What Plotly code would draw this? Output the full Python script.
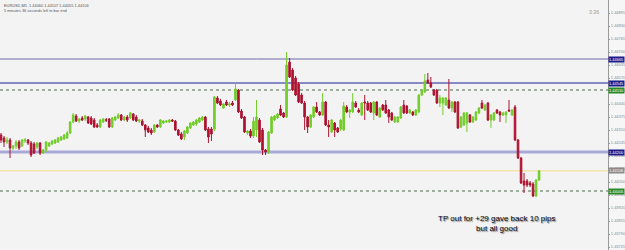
import plotly.graph_objects as go

# ---- data (EURUSD M5) ----
opens = [
1.44285,1.44270,1.44250,1.44260,1.44220,1.44230,1.44250,1.44230,1.44255,1.44260,
1.44245,1.44240,1.44225,1.44245,1.44195,1.44210,1.44230,1.44240,1.44245,1.44250,1.44260,
1.44265,1.44270,1.44295,1.44350,1.44380,1.44355,1.44370,1.44365,1.44375,1.44370,
1.44360,1.44335,1.44325,1.44350,1.44360,1.44365,1.44325,1.44360,1.44370,1.44385,
1.44360,1.44375,1.44370,1.44390,1.44375,1.44355,1.44355,1.44335,1.44320,1.44310,1.44300,
1.44335,1.44325,1.44345,1.44350,1.44350,1.44360,1.44355,1.44310,1.44290,1.44275,1.44295,
1.44320,1.44335,1.44340,1.44350,1.44360,1.44375,1.44315,1.44315,1.44315,1.44470,
1.44455,1.44420,1.44450,1.44435,1.44445,1.44460,1.44510,1.44405,1.44375,1.44295,
1.44305,1.44280,1.44310,1.44360,1.44310,1.44210,1.44200,1.44295,1.44360,
1.44370,1.44415,1.44395,1.44375,1.44650,1.44610,1.44570,1.44540,1.44485,
1.44445,1.44375,1.44325,1.44375,1.44425,1.44400,1.44385,1.44450,
1.44335,1.44300,1.44345,1.44320,1.44315,1.44310,1.44425,1.44400,1.44400,
1.44445,1.44410,1.44385,1.44450,1.44445,1.44445,1.44395,1.44450,
1.44375,1.44435,1.44435,1.44410,1.44395,1.44350,1.44350,1.44370,1.44435,
1.44430,1.44395,1.44400,1.44385,1.44400,1.44485,1.44500,1.44560,1.44545,
1.44510,1.44510,1.44445,1.44445,1.44435,1.44460,1.44420,1.44450,1.44450,
1.44325,1.44335,1.44345,1.44385,1.44350,1.44360,1.44395,1.44445,1.44410,1.44445,
1.44360,1.44360,1.44410,1.44400,1.44385,1.44385,1.44410,1.44385,
1.44425,1.44260,1.44170,1.44055,1.44055,1.44045,1.44040,1.43980,1.44060]

highs = [
1.44295,1.44280,1.44275,1.44270,1.44235,1.44260,1.44260,1.44265,1.44270,1.44265,
1.44255,1.44250,1.44250,1.44250,1.44215,1.44255,1.44250,1.44260,1.44265,1.44275,1.44280,
1.44290,1.44305,1.44355,1.44395,1.44390,1.44370,1.44380,1.44385,1.44380,1.44380,
1.44370,1.44345,1.44365,1.44370,1.44370,1.44370,1.44375,1.44380,1.44395,1.44390,
1.44380,1.44385,1.44400,1.44395,1.44385,1.44365,1.44365,1.44340,1.44330,1.44320,1.44340,
1.44340,1.44365,1.44360,1.44360,1.44365,1.44365,1.44360,1.44315,1.44300,1.44310,1.44330,
1.44350,1.44355,1.44365,1.44375,1.44380,1.44380,1.44325,1.44325,1.44480,1.44480,
1.44465,1.44445,1.44460,1.44450,1.44455,1.44545,1.44515,1.44415,1.44380,1.44310,
1.44315,1.44375,1.44460,1.44370,1.44320,1.44215,1.44305,1.44380,1.44385,
1.44395,1.44435,1.44400,1.44700,1.44670,1.44620,1.44580,1.44550,1.44495,
1.44455,1.44380,1.44390,1.44430,1.44450,1.44405,1.44495,1.44455,
1.44360,1.44365,1.44350,1.44325,1.44365,1.44450,1.44435,1.44415,1.44495,
1.44455,1.44420,1.44450,1.44485,1.44455,1.44450,1.44455,1.44455,
1.44425,1.44440,1.44460,1.44415,1.44400,1.44380,1.44380,1.44430,1.44460,
1.44435,1.44415,1.44405,1.44415,1.44490,1.44515,1.44590,1.44595,1.44575,
1.44515,1.44515,1.44485,1.44475,1.44475,1.44565,1.44455,1.44455,1.44455,
1.44380,1.44400,1.44400,1.44390,1.44380,1.44405,1.44425,1.44460,1.44440,1.44450,
1.44390,1.44400,1.44415,1.44405,1.44400,1.44405,1.44460,1.44415,
1.44435,1.44265,1.44175,1.44095,1.44065,1.44055,1.44050,1.44065,1.44107]

lows = [
1.44245,1.44225,1.44240,1.44170,1.44210,1.44215,1.44210,1.44225,1.44245,1.44235,
1.44175,1.44190,1.44215,1.44185,1.44190,1.44200,1.44225,1.44235,1.44240,1.44245,1.44255,
1.44260,1.44265,1.44290,1.44345,1.44350,1.44345,1.44355,1.44355,1.44340,1.44335,
1.44320,1.44320,1.44320,1.44345,1.44350,1.44320,1.44320,1.44355,1.44365,1.44355,
1.44355,1.44350,1.44365,1.44355,1.44350,1.44345,1.44330,1.44275,1.44295,1.44285,1.44295,
1.44320,1.44320,1.44340,1.44345,1.44345,1.44350,1.44305,1.44280,1.44260,1.44260,1.44290,
1.44315,1.44330,1.44330,1.44345,1.44355,1.44305,1.44245,1.44255,1.44305,1.44440,
1.44430,1.44415,1.44430,1.44425,1.44430,1.44455,1.44395,1.44365,1.44295,1.44285,
1.44270,1.44270,1.44275,1.44245,1.44185,1.44185,1.44190,1.44290,1.44355,
1.44365,1.44380,1.44370,1.44370,1.44570,1.44505,1.44480,1.44445,1.44440,
1.44310,1.44295,1.44320,1.44370,1.44395,1.44380,1.44380,1.44330,
1.44275,1.44295,1.44275,1.44295,1.44305,1.44305,1.44395,1.44370,1.44395,
1.44420,1.44395,1.44380,1.44360,1.44405,1.44395,1.44360,1.44380,
1.44370,1.44405,1.44390,1.44345,1.44355,1.44345,1.44345,1.44365,1.44390,
1.44390,1.44390,1.44380,1.44380,1.44395,1.44480,1.44495,1.44540,1.44520,
1.44480,1.44440,1.44425,1.44385,1.44430,1.44415,1.44400,1.44395,1.44315,
1.44320,1.44330,1.44300,1.44345,1.44345,1.44355,1.44390,1.44415,1.44405,1.44355,
1.44320,1.44355,1.44390,1.44350,1.44380,1.44345,1.44400,1.44380,
1.44255,1.44165,1.44040,1.43995,1.44025,1.44025,1.43975,1.43975,1.44055]

closes = [
1.44260,1.44250,1.44260,1.44220,1.44230,1.44250,1.44220,1.44260,1.44260,1.44245,
1.44185,1.44195,1.44245,1.44195,1.44210,1.44250,1.44245,1.44255,1.44260,1.44270,1.44275,
1.44285,1.44295,1.44350,1.44385,1.44355,1.44365,1.44360,1.44380,1.44345,1.44340,
1.44325,1.44325,1.44360,1.44365,1.44360,1.44325,1.44370,1.44375,1.44385,1.44360,
1.44375,1.44360,1.44395,1.44360,1.44355,1.44360,1.44335,1.44310,1.44300,1.44295,1.44335,
1.44325,1.44360,1.44355,1.44355,1.44360,1.44355,1.44310,1.44285,1.44265,1.44305,1.44325,
1.44345,1.44350,1.44360,1.44370,1.44375,1.44310,1.44275,1.44290,1.44475,1.44445,
1.44435,1.44440,1.44435,1.44440,1.44435,1.44515,1.44400,1.44370,1.44300,1.44305,
1.44280,1.44355,1.44375,1.44250,1.44210,1.44200,1.44300,1.44375,1.44380,
1.44390,1.44385,1.44375,1.44635,1.44575,1.44510,1.44485,1.44450,1.44445,
1.44375,1.44325,1.44385,1.44425,1.44400,1.44385,1.44450,1.44335,
1.44325,1.44360,1.44310,1.44300,1.44360,1.44430,1.44400,1.44410,1.44450,
1.44425,1.44400,1.44445,1.44445,1.44410,1.44400,1.44450,1.44385,
1.44420,1.44410,1.44395,1.44375,1.44360,1.44375,1.44375,1.44425,1.44395,
1.44395,1.44410,1.44385,1.44410,1.44485,1.44510,1.44555,1.44545,1.44525,
1.44485,1.44445,1.44470,1.44470,1.44470,1.44420,1.44450,1.44400,1.44320,
1.44375,1.44395,1.44395,1.44350,1.44375,1.44400,1.44420,1.44420,1.44435,1.44360,
1.44385,1.44395,1.44395,1.44385,1.44395,1.44400,1.44405,1.44410,
1.44260,1.44170,1.44045,1.44035,1.44035,1.44035,1.43980,1.44060,1.44106]

price_ticks = [1.43725, 1.43790, 1.43855, 1.43920, 1.43985, 1.44050, 1.44115,
               1.44180, 1.44245, 1.44310, 1.44375, 1.44440, 1.44505, 1.44570,
               1.44635, 1.44700, 1.44765, 1.44830, 1.44895]

# horizontal levels: (price, line colour, width, dash, label bg)
levels = [
    (1.44665, "#6a6aa6", 1, "solid", "#1c1c8c"),
    (1.44545, "#8888c4", 2, "solid", "#1c1c8c"),
    (1.44510, "#4d6b4d", 1, "dot", "#2a8a2a"),
    (1.44200, "#a9a9d9", 3, "solid", "#1c1c8c"),
    (1.44106, "#f2dc8a", 1, "solid", "#8a8a8a"),
    (1.44005, "#4d6b4d", 1, "dot", "#2a8a2a"),
]

header_line1 = "EURUSD,M5  1.44060 1.44107 1.44055 1.44106"
header_line2 = "5 minutes 36 seconds left to bar end"
timer_text = "3:36"
note_text = "TP out for +29 gave back 10 pips<br>but all good"

x = list(range(len(opens)))

fig = go.Figure(go.Candlestick(
    x=x, open=opens, high=highs, low=lows, close=closes,
    increasing=dict(line=dict(color="#72cc2a", width=1), fillcolor="#72cc2a"),
    decreasing=dict(line=dict(color="#ad1230", width=1), fillcolor="#ad1230"),
    whiskerwidth=0, hoverinfo="skip",
))

shapes = []
annotations = []
for p, col, w, dash, bg in levels:
    shapes.append(dict(type="line", xref="paper", yref="y", x0=0, x1=1, y0=p, y1=p,
                       line=dict(color=col, width=w, dash=dash), layer="below"))
    annotations.append(dict(xref="paper", yref="y", x=1, y=p, xanchor="left",
                            yanchor="middle", text=f"{p:.5f}", showarrow=False,
                            bgcolor=bg, font=dict(family="Liberation Sans", size=4,
                                                  color="white"),
                            width=15, height=5, borderpad=0, xshift=0))

annotations += [
    dict(xref="paper", yref="paper", x=0.003, y=0.996, xanchor="left", yanchor="top",
         text=header_line1 + "<br>" + header_line2, showarrow=False, align="left",
         font=dict(family="Liberation Sans", size=3.9, color="#555555")),
    dict(xref="paper", yref="paper", x=0.9885, y=0.954, xanchor="right", yanchor="middle",
         text=timer_text, showarrow=False,
         font=dict(family="Liberation Sans", size=5.2, color="#9a9a9a")),
    dict(xref="paper", yref="paper", x=0.8174, y=0.105, xanchor="center", yanchor="middle",
         text=note_text, showarrow=False, align="center",
         font=dict(family="Liberation Sans", size=8, color="#0a0a0a",
                   shadow="1px 1px 1px #777777")),
]

fig.update_layout(
    width=625, height=250,
    margin=dict(l=0, r=17, t=0, b=0),
    paper_bgcolor="#f6f6f6", plot_bgcolor="#f3f3f3",
    showlegend=False, boxgap=0.25,
    shapes=shapes, annotations=annotations,
    xaxis=dict(range=[-0.333, 201.93], showticklabels=False, showgrid=False,
               zeroline=False, showline=False, rangeslider=dict(visible=False),
               fixedrange=True),
    yaxis=dict(range=[1.43710, 1.44960], side="right", showgrid=False, zeroline=False,
               tickvals=price_ticks, ticktext=[f"{v:.5f}" for v in price_ticks],
               ticks="outside", ticklen=1, tickcolor="#999999",
               showline=True, linecolor="#9a9a9a", linewidth=1,
               tickfont=dict(family="Liberation Sans", size=4, color="#8a8a8a")),
)

fig.write_html("out.html")
